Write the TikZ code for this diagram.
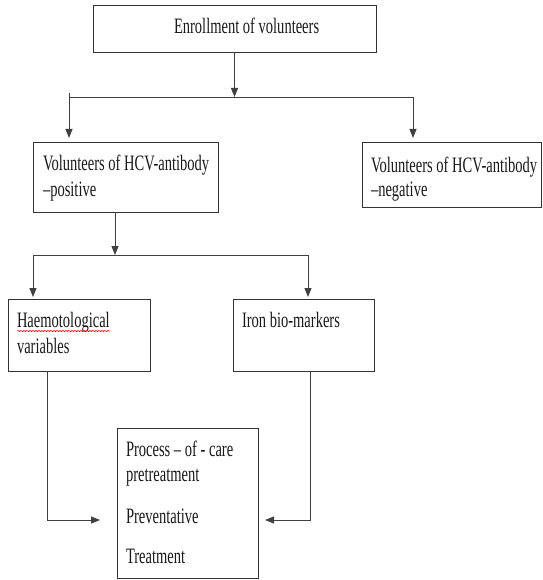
\documentclass[tikz,border=0pt]{standalone}
\usepackage{fontspec}
\setmainfont{Liberation Serif}[FakeStretch=0.66]
\usetikzlibrary{arrows.meta,decorations.pathmorphing}
\tikzset{
  box/.style={draw=black!80, line width=0.9pt, rectangle, inner sep=0pt, outer sep=0pt, anchor=north west},
  txt/.style={inner sep=0pt, outer sep=0pt, anchor=base west, text=black!90, font=\fontsize{22}{25}\selectfont},
  ln/.style={draw=black!75, line width=0.9pt},
  arr/.style={ln, -{Triangle[length=9pt,width=7pt]}},
}
\begin{document}
\begin{tikzpicture}[x=1pt,y=-1pt]
\useasboundingbox (0,0) rectangle (542,580);
% boxes
\node[box, minimum width=283pt, minimum height=47pt] (enroll) at (93,5) {};
\node[box, minimum width=185pt, minimum height=70pt] (pos) at (33,142) {};
\node[box, minimum width=179pt, minimum height=65pt] (neg) at (362,142) {};
\node[box, minimum width=142pt, minimum height=72pt] (haem) at (8,299) {};
\node[box, minimum width=141pt, minimum height=72pt] (iron) at (233,299) {};
\node[box, minimum width=141pt, minimum height=150pt] (care) at (117,428) {};
% texts
\node[txt] (t1) at (174,34) {Enrollment of volunteers};
\node[txt] (t2) at (43,171) {Volunteers of HCV-antibody};
\node[txt] (t3) at (43,196) {–positive};
\node[txt] (t4) at (371,172) {Volunteers of HCV-antibody};
\node[txt] (t5) at (371,196) {–negative};
\node[txt] (t6) at (17,327) {Haemotological};
\node[txt] (t7) at (17,353) {variables};
\node[txt] (t8) at (242,327) {Iron bio-markers};
\node[txt] (t9) at (126,456) {Process – of - care};
\node[txt] (t10) at (126,481) {pretreatment};
\node[txt] (t11) at (126,523) {Preventative};
\node[txt] (t12) at (126,563) {Treatment};
% spell-check squiggle
\draw[red, line width=0.5pt, decorate, decoration={snake, amplitude=0.7pt, segment length=3pt}] (17,331) -- (110,331);
% connector coordinates
\coordinate (tick) at (69,93);
\coordinate (h1L) at (69,97);
\coordinate (h1R) at (413,97);
\coordinate (h2L) at (33,255);
\coordinate (h2R) at (308,255);
\coordinate (b1) at (47,520);
\coordinate (b2) at (310,520);
% connectors
\draw[arr] (enroll.south) -- (enroll.south |- h1L);
\draw[ln] (tick) -- (h1L) -- (h1R);
\draw[arr, shorten >=4pt] (h1L) -- (h1L |- pos.north);
\draw[arr, shorten >=4pt] (h1R) -- (h1R |- neg.north);
\draw[arr] (pos.south -| 115,0) -- (115,255);
\draw[ln] (h2L) -- (h2R);
\draw[arr, shorten >=2pt] (h2L) -- (h2L |- haem.north);
\draw[arr, shorten >=2pt] (h2R) -- (h2R |- iron.north);
\draw[arr, shorten >=17pt] (haem.south -| b1) -- (b1) -- (b1 -| care.west);
\draw[arr, shorten >=7pt] (iron.south -| b2) -- (b2) -- (b2 -| care.east);
\end{tikzpicture}
\end{document}
